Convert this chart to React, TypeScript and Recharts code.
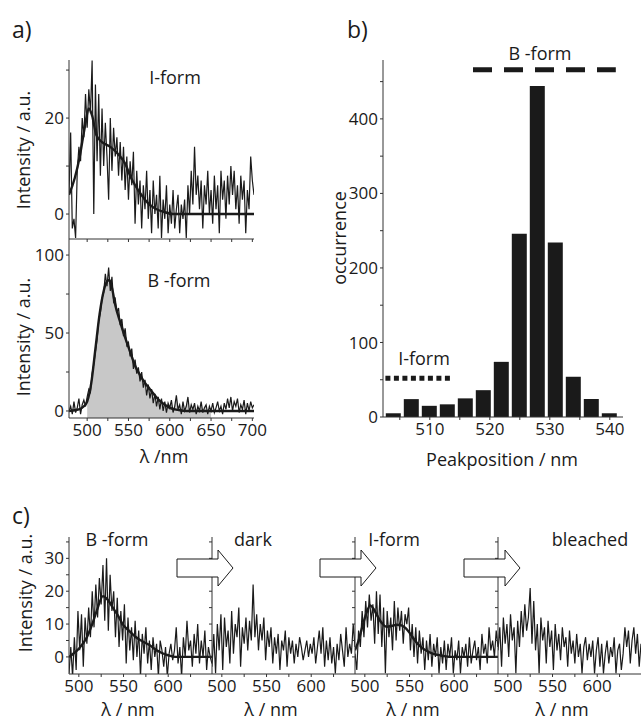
import { ComposedChart, Line, Area, Bar, XAxis, YAxis, ReferenceLine } from 'recharts';

const FONT = '"Open Sans", "Noto Sans", sans-serif';
const INK = '#1a1a1a';
const AXIS = '#333';

// ---- panel a: single-molecule spectra (2 nm grid from 478 nm)
const A_START = 478;
const A_STEP = 2;
const iFormSpectrum = [
  4, 17, -3, -1, -5, 9, 14, 11, 20, 16, 25, 18, 26, 21, 32, 0, 27, 11, 25, 8,
  22, 10, 19, 12, 3, 20, 9, 18, 12, 16, 8, 15, 7, 14, 5, 12, 3, 11, 6, 13,
  -2, 9, 2, 7, -3, 6, 1, 9, -1, 5, -4, 7, 0, 4, -3, 8, -5, 3, -1, 6,
  -4, 2, -2, 5, -3, 1, 4, -4, 2, -1, 3, -5, 6, 0, 9, 2, 14, 4, 8, 1,
  7, -3, 6, 2, 9, 0, 5, -2, 8, 1, 6, -4, 9, 3, 7, -1, 8, 2, 10, 4,
  9, 1, 6, -2, 8, 3, 7, -4, 5, 1, 12, 7, 4,
];
const bFormSpectrum = [
  0, 3, -2, 6, -1, 2, 8, -2, 4, 7, 3, 9, 14, 12, 24, 30, 38, 46, 58, 63,
  72, 76, 88, 80, 92, 77, 86, 70, 72, 63, 66, 55, 59, 48, 53, 42, 44, 35, 40, 27,
  33, 24, 28, 19, 25, 15, 20, 10, 17, 8, 14, 5, 11, 3, 9, 1, 8, 0, 6, -1,
  5, 2, 7, -1, 3, 10, 1, 4, -2, 6, 0, 3, 9, -1, 4, 1, 5, -2, 3, 0,
  6, -1, 2, 4, -2, 3, 0, 5, -1, 2, 6, 0, 3, -2, 5, 1, 8, 2, 9, 0,
  6, 3, 8, -1, 4, 1, 7, -2, 5, 0, 6, 2, 4,
];
const iFitNm = [478, 485, 491, 497, 502, 506, 511, 518, 528, 540, 546, 552, 558, 564, 570, 576, 584, 592, 604, 650, 702];
const iFitVal = [4, 7.5, 12, 18, 22, 20.5, 16.5, 15, 14, 12, 10.5, 8, 6, 4.4, 3, 1.9, 1, 0.5, 0, 0, 0];
const bFitNm = [478, 490, 496, 500, 505, 510, 515, 520, 524, 527, 530, 534, 540, 546, 552, 558, 564, 570, 576, 582, 588, 594, 600, 610, 620, 702];
const bFitVal = [0, 1, 3, 6, 18, 40, 62, 77, 83, 84, 79, 68, 57, 47, 38, 29, 23, 18, 14, 10, 6.5, 4, 2, 0.7, 0, 0];

// ---- panel b: histogram of peak positions
const peakNm = [504, 507, 510, 513, 516, 519, 522, 525, 528, 531, 534, 537, 540];
const peakCount = [5, 24, 15, 17, 25, 36, 74, 246, 444, 234, 54, 24, 5];

// ---- panel c: time sequence of one molecule (2 nm grid from 489 nm)
const C_START = 489;
const C_STEP = 2;
const cBForm = [
  -5, 3, -6, 6, -4, 14, 2, 13, -3, 12, 4, 15, 6, 20, 9, 22, 12, 24, 16, 28,
  11, 30, 8, 25, 14, 20, 6, 18, 3, 14, 5, 16, -2, 12, 2, 9, -1, 11, 0, 8,
  -6, 7, 1, 9, -2, 5, -4, 6, 0, 4, -6, 5, 2, -3, 3, -6, 1, 4, -1, 2,
  9, -2, 3, -6, 6, 0, 11, 2, 5, -3, 7, 1, 10, -2, 5, 0, 8, -4, 3, 0, -2,
];
const cDark = [
  -3, 7, -5, 10, 2, 13, -4, 12, 3, 8, -2, 14, 1, 10, 6, 15, -3, 9, 4, 12,
  2, 11, 5, 22, 6, 13, 2, 10, 5, 12, -1, 8, 3, 9, -2, 6, 1, 7, -4, 5,
  2, 8, -3, 6, 1, 5, -2, 4, 0, 6, 3, -1, 2, 5, 0, 4, 1, 6, -2, 3,
  8, 1, 9, -3, 5, -1, 6, -2, 3, -5, 4, -1, 7, 2, -3, 9, 0, 4, 1, 10, 3,
];
const cIForm = [
  1, -4, 8, 3, 14, 6, 17, 9, 19, 11, 16, 4, 20, 7, 19, 3, 15, -5, 14, 6,
  12, 2, 17, 5, 15, 8, 14, 4, 13, 10, 15, 2, 10, 0, 9, -2, 8, 1, 6, -4,
  5, -1, 7, -3, 4, 0, 6, -5, 3, -2, 5, -4, 4, 0, 6, -5, 2, -1, 5, -5,
  3, 0, 4, -3, 6, -2, 2, 5, -1, 3, -4, 7, 1, 4, -2, 9, 2, 5, 0, 8, 3,
];
const cBleached = [
  2, 9, -3, 12, 4, 10, 0, 13, 5, 9, -5, 11, 3, 14, 6, 16, 8, 12, 21, 4,
  17, 2, 10, -5, 12, 5, 9, -2, 11, 3, 8, -4, 10, 2, 7, -1, 9, 3, 6, -3,
  8, 1, 5, -2, 7, 0, 4, -5, 3, 6, -1, 4, 0, 5, -5, 2, 6, -3, 4, -5,
  1, 5, -2, 3, 0, 6, -5, 2, 4, -4, 1, 9, 3, 8, -2, 5, 9, 1, 7, -3, 4,
];
const cBFitNm = [489, 492, 500, 509, 515, 520, 527, 532, 538, 544, 549, 556, 564, 572, 579, 586, 593, 600, 608, 649];
const cBFitVal = [0, 0.6, 2.5, 6, 10, 14, 18.5, 17.5, 15, 12.5, 10, 8, 6, 4.6, 3.6, 2.2, 1.2, 0.5, 0, 0];
const cIFitNm = [489, 493, 497, 502, 506, 510, 514, 519, 524, 530, 536, 541, 546, 551, 556, 562, 568, 575, 582, 597, 649];
const cIFitVal = [2, 5, 9, 13.5, 15.7, 14.5, 12.5, 10.3, 9.2, 9.4, 9.8, 9.6, 8.7, 7, 5, 3.2, 2, 1.1, 0.6, 0, 0];

const grid = (start: number, step: number, vals: number[]) => vals.map((v, i) => ({ x: start + i * step, y: v }));
const zip = (xs: number[], ys: number[]) => xs.map((x, i) => ({ x, y: ys[i] }));

const tickStyle = { fontSize: 17, fill: INK, fontFamily: FONT };

interface SpecProps {
  left: number;
  top: number;
  w: number;
  h: number;
  xDomain: [number, number];
  yDomain: [number, number];
  xTicks: number[];
  xLabels: number[];
  yTicks: number[];
  yLabels: number[];
  noise: { x: number; y: number }[];
  fit?: { x: number; y: number }[];
  fill?: { x: number; y: number }[];
  xAxisH: number;
}

const YA = 40;
const MT = 2;
const MR = 18;

function Spectrum(p: SpecProps) {
  return (
    <div style={{ position: 'absolute', left: p.left - YA, top: p.top - MT }}>
      <ComposedChart
        width={YA + p.w + MR}
        height={MT + p.h + p.xAxisH}
        data={p.noise}
        margin={{ top: MT, right: MR, left: 0, bottom: 0 }}
      >
        <XAxis
          type="number"
          dataKey="x"
          domain={p.xDomain}
          ticks={p.xTicks}
          interval={0}
          allowDataOverflow
          height={p.xAxisH}
          tickSize={3}
          tickMargin={3}
          axisLine={{ stroke: AXIS }}
          tickLine={{ stroke: AXIS }}
          tick={tickStyle}
          tickFormatter={(v: number) => (p.xLabels.includes(v) ? String(v) : '')}
        />
        <YAxis
          type="number"
          domain={p.yDomain}
          ticks={p.yTicks}
          interval={0}
          allowDataOverflow
          width={YA}
          tickSize={3}
          tickMargin={2}
          axisLine={{ stroke: AXIS }}
          tickLine={{ stroke: AXIS }}
          tick={tickStyle}
          tickFormatter={(v: number) => (p.yLabels.includes(v) ? String(v) : '')}
        />
        {p.fill && (
          <Area
            data={p.fill}
            dataKey="y"
            type="linear"
            stroke="none"
            fill="#c8c8c8"
            fillOpacity={1}
            baseValue={p.yDomain[0]}
            isAnimationActive={false}
          />
        )}
        <Line dataKey="y" type="linear" stroke={INK} strokeWidth={1.2} dot={false} isAnimationActive={false} />
        {p.fit && (
          <Line data={p.fit} dataKey="y" type="monotone" stroke={INK} strokeWidth={2.4} dot={false} isAnimationActive={false} />
        )}
      </ComposedChart>
    </div>
  );
}

function Histogram() {
  const data = zip(peakNm, peakCount).map((d) => ({ nm: d.x, count: d.y }));
  const left = 383;
  const top = 60;
  const w = 240;
  const h = 357;
  return (
    <div style={{ position: 'absolute', left: left - 50, top: top - MT }}>
      <ComposedChart width={50 + w + MR} height={MT + h + 30} data={data} margin={{ top: MT, right: MR, left: 0, bottom: 0 }}>
        <XAxis
          type="number"
          dataKey="nm"
          domain={[502.2, 542.2]}
          ticks={[505, 510, 515, 520, 525, 530, 535, 540]}
          interval={0}
          allowDataOverflow
          height={30}
          tickSize={3}
          tickMargin={3}
          axisLine={{ stroke: AXIS }}
          tickLine={{ stroke: AXIS }}
          tick={tickStyle}
          tickFormatter={(v: number) => (v % 10 === 0 ? String(v) : '')}
        />
        <YAxis
          type="number"
          domain={[0, 479]}
          ticks={[0, 50, 100, 150, 200, 250, 300, 350, 400, 450]}
          interval={0}
          allowDataOverflow
          width={50}
          tickSize={3}
          tickMargin={2}
          axisLine={{ stroke: AXIS }}
          tickLine={{ stroke: AXIS }}
          tick={tickStyle}
          tickFormatter={(v: number) => (v % 100 === 0 ? String(v) : '')}
        />
        <Bar dataKey="count" fill={INK} barSize={15} isAnimationActive={false} />
        <ReferenceLine
          segment={[{ x: 517.2, y: 466 }, { x: 541, y: 466 }]}
          stroke={INK}
          strokeWidth={5}
          strokeDasharray="19 12"
        />
        <ReferenceLine
          segment={[{ x: 502.6, y: 52 }, { x: 513.8, y: 52 }]}
          stroke={INK}
          strokeWidth={5}
          strokeDasharray="5 3.5"
        />
      </ComposedChart>
    </div>
  );
}

const arrowPts = (l: number, hb: number, t: number) =>
  `${l},559 ${hb},559 ${hb},550 ${t},568 ${hb},586 ${hb},577 ${l},577`;

export default function App() {
  const cX: [number, number] = [489, 649];
  const cY: [number, number] = [-5.2, 36.5];
  const cXTicks = [500, 525, 550, 575, 600, 625];
  const cXLabels = [500, 550, 600];
  const cYTicks = [0, 5, 10, 15, 20, 25, 30, 35];
  const cYLabels = [0, 10, 20, 30];
  const txt = { fontFamily: FONT, fill: INK, fontSize: 18 };
  return (
    <div style={{ position: 'absolute', left: 0, top: 0, width: 641, height: 720, background: '#fff', overflow: 'hidden' }}>
      {/* panel a */}
      <Spectrum
        left={69} top={60} w={185} h={179}
        xDomain={[478, 702]} yDomain={[-5.2, 32.1]}
        xTicks={[500, 525, 550, 575, 600, 625, 650, 675, 700]} xLabels={[]}
        yTicks={[0, 10, 20, 30]} yLabels={[0, 20]}
        noise={grid(A_START, A_STEP, iFormSpectrum)}
        fit={zip(iFitNm, iFitVal)}
        xAxisH={8}
      />
      <Spectrum
        left={69} top={239} w={185} h={179}
        xDomain={[478, 702]} yDomain={[-4.5, 110.3]}
        xTicks={[500, 525, 550, 575, 600, 625, 650, 675, 700]} xLabels={[500, 550, 600, 650, 700]}
        yTicks={[0, 25, 50, 75, 100]} yLabels={[0, 50, 100]}
        noise={grid(A_START, A_STEP, bFormSpectrum)}
        fit={zip(bFitNm, bFitVal)}
        fill={grid(A_START, A_STEP, bFormSpectrum).filter((d) => d.x >= 500 && d.x <= 650)}
        xAxisH={30}
      />

      {/* panel b */}
      <Histogram />

      {/* panel c */}
      <Spectrum left={69} top={537} w={143} h={137} xDomain={cX} yDomain={cY}
        xTicks={cXTicks} xLabels={cXLabels} yTicks={cYTicks} yLabels={cYLabels}
        noise={grid(C_START, C_STEP, cBForm)} fit={zip(cBFitNm, cBFitVal)} xAxisH={30} />
      <Spectrum left={212} top={537} w={143} h={137} xDomain={cX} yDomain={cY}
        xTicks={cXTicks} xLabels={cXLabels} yTicks={cYTicks} yLabels={[]}
        noise={grid(C_START, C_STEP, cDark)} xAxisH={30} />
      <Spectrum left={355} top={537} w={143} h={137} xDomain={cX} yDomain={cY}
        xTicks={cXTicks} xLabels={cXLabels} yTicks={cYTicks} yLabels={[]}
        noise={grid(C_START, C_STEP, cIForm)} fit={zip(cIFitNm, cIFitVal)} xAxisH={30} />
      <Spectrum left={498} top={537} w={143} h={137} xDomain={cX} yDomain={cY}
        xTicks={cXTicks} xLabels={cXLabels} yTicks={cYTicks} yLabels={[]}
        noise={grid(C_START, C_STEP, cBleached)} xAxisH={30} />

      {/* labels and arrows */}
      <svg width={641} height={720} style={{ position: 'absolute', left: 0, top: 0, pointerEvents: 'none' }}>
        <g dominantBaseline="central">
          <text x={12} y={29} {...txt} fontSize={23}>a)</text>
          <text x={347} y={29} {...txt} fontSize={23}>b)</text>
          <text x={12} y={515} {...txt} fontSize={23}>c)</text>

          <text x={175} y={77} {...txt} textAnchor="middle">I-form</text>
          <text x={179} y={280} {...txt} textAnchor="middle">B -form</text>
          <text x={0} y={0} {...txt} textAnchor="middle" transform="translate(23,150) rotate(-90)">Intensity / a.u.</text>
          <text x={0} y={0} {...txt} textAnchor="middle" transform="translate(23,337) rotate(-90)">Intensity / a.u.</text>
          <text x={164} y={456} {...txt} textAnchor="middle">λ /nm</text>

          <text x={540} y={53} {...txt} textAnchor="middle">B -form</text>
          <text x={424} y={358} {...txt} textAnchor="middle">I-form</text>
          <text x={0} y={0} {...txt} textAnchor="middle" transform="translate(339,238) rotate(-90)">occurrence</text>
          <text x={502} y={459} {...txt} textAnchor="middle">Peakposition / nm</text>

          <text x={117} y={539} {...txt} textAnchor="middle">B -form</text>
          <text x={253} y={539} {...txt} textAnchor="middle">dark</text>
          <text x={394} y={539} {...txt} textAnchor="middle">I-form</text>
          <text x={590} y={539} {...txt} textAnchor="middle">bleached</text>
          <text x={0} y={0} {...txt} textAnchor="middle" transform="translate(25,593) rotate(-90)">Intensity / a.u.</text>
          <text x={128} y={709} {...txt} textAnchor="middle">λ / nm</text>
          <text x={271} y={709} {...txt} textAnchor="middle">λ / nm</text>
          <text x={413} y={709} {...txt} textAnchor="middle">λ / nm</text>
          <text x={562} y={709} {...txt} textAnchor="middle">λ / nm</text>
        </g>
        <polygon points={arrowPts(177, 218, 233)} fill="#fff" stroke={INK} strokeWidth={1} />
        <polygon points={arrowPts(320, 361, 376)} fill="#fff" stroke={INK} strokeWidth={1} />
        <polygon points={arrowPts(464, 505, 520)} fill="#fff" stroke={INK} strokeWidth={1} />
      </svg>
    </div>
  );
}
